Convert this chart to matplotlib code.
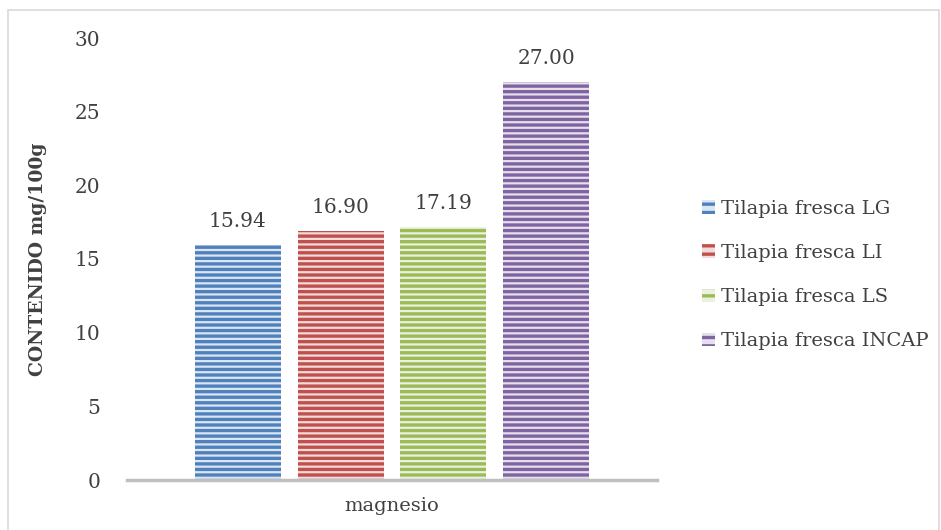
import matplotlib
matplotlib.use("Agg")
import matplotlib.pyplot as plt
from matplotlib.patches import Rectangle, Patch

# Data
category = "magnesio"
series = ["Tilapia fresca LG", "Tilapia fresca LI", "Tilapia fresca LS", "Tilapia fresca INCAP"]
values = [15.94, 16.90, 17.19, 27.00]
colors = ["#4F81BD", "#C0504D", "#9BBB59", "#8064A2"]
tints = ["#DCE6F2", "#F2DCDB", "#EBF1DE", "#E5E0EC"]
yticks = [0, 5, 10, 15, 20, 25, 30]

plt.rcParams["font.family"] = ["DejaVu Serif"]
plt.rcParams["hatch.linewidth"] = 2.4

fig = plt.figure(figsize=(9.41, 5.30), dpi=100)
ax = fig.add_axes([127 / 941, 50 / 530, 530 / 941, 442 / 530])

# outer chart border
fig.patches.append(Rectangle((8 / 941, -0.1), 931 / 941, 1.0 - 9.5 / 530 + 0.1,
                             transform=fig.transFigure, fill=False,
                             edgecolor="#D9D9D9", linewidth=1.2))

width = 0.162
step = 0.194
offsets = [(i - 1.5) * step for i in range(len(series))]
for off, v, c, t, name in zip(offsets, values, colors, tints, series):
    ax.bar(off, v, width=width, facecolor=t, edgecolor=c, hatch="---",
           linewidth=0, label=name)
    ax.text(off, v + 0.95, f"{v:.2f}", ha="center", va="bottom",
            fontsize=14.5, color="#404040")

ax.set_xlim(-0.5, 0.5)
ax.set_ylim(0, 30)
ax.set_yticks(yticks)
ax.set_xticks([0])
ax.set_xticklabels([category])
ax.tick_params(axis="y", length=0, pad=19, labelsize=14.5, labelcolor="#404040")
ax.tick_params(axis="x", length=0, pad=12, labelsize=14, labelcolor="#404040")
for s in ["top", "right", "left"]:
    ax.spines[s].set_visible(False)
ax.spines["bottom"].set_color("#BFBFBF")
ax.spines["bottom"].set_linewidth(2.5)

ax.set_ylabel("CONTENIDO mg/100g", fontsize=13.5, fontweight="bold",
              color="#404040", labelpad=20)

handles = [Patch(facecolor=t, edgecolor=c, hatch="--", linewidth=0)
           for c, t in zip(colors, tints)]
fig.legend(handles, series, loc="center left", bbox_to_anchor=(684 / 941, 1 - 275 / 530),
           frameon=False, fontsize=14, labelcolor="#404040", handlelength=0.7,
           handleheight=0.7, handletextpad=0.3, labelspacing=1.35)

fig.savefig("out.png", dpi=100)
plt.close(fig)
